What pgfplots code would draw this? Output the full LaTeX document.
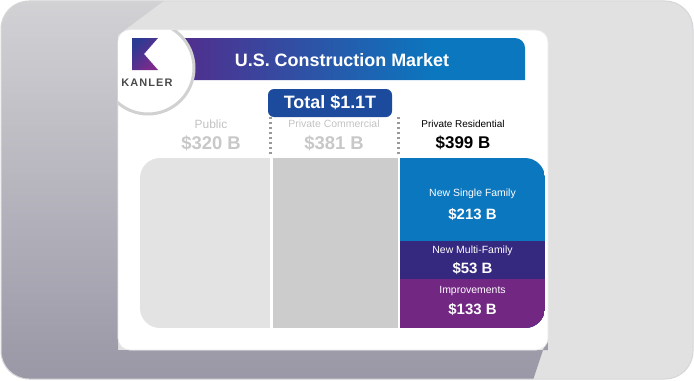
\documentclass[border=0pt]{standalone}
\usepackage{fontspec}
\setmainfont{Liberation Sans}
\usepackage{pgfplots}
\pgfplotsset{compat=1.18}
\definecolor{kblue}{HTML}{0B77BF}
\definecolor{kindigo}{HTML}{35287F}
\definecolor{kpurple}{HTML}{722782}
\definecolor{bpurple}{HTML}{5B2386}
\definecolor{pubgray}{HTML}{E3E3E3}
\definecolor{comgray}{HTML}{CCCCCC}
\definecolor{totbox}{HTML}{1C4A9C}
\definecolor{bgl}{HTML}{E1E1E2}
\definecolor{bgline}{HTML}{D6D6D8}
\definecolor{shtop}{HTML}{D2D2D5}
\definecolor{shbot}{HTML}{9A97A6}
\definecolor{hdrgray}{HTML}{C3C3C3}
\definecolor{valgray}{HTML}{C8C8C8}
\definecolor{logoblue}{HTML}{2B3A92}
\definecolor{logopurple}{HTML}{7E2A8C}
\definecolor{kanler}{HTML}{4A4A4A}
\pgfdeclarehorizontalshading{banner}{100bp}{color(0bp)=(bpurple); color(20bp)=(bpurple); color(62bp)=(kblue); color(100bp)=(kblue)}
\begin{document}
\begin{tikzpicture}[x=1bp,y=1bp]
\path[use as bounding box] (0,0) rectangle (694,380);
\fill[white] (0,0) rectangle (694,380);
\begin{scope}
\clip[rounded corners=28bp] (1,1) rectangle (693,379);
\fill[bgl] (0,0) rectangle (694,380);
\shade[top color=shtop, bottom color=shbot] (0,380) -- (165,380) -- (118,345) -- (118,30) -- (548,30) -- (548,45) -- (533,0) -- (0,0) -- cycle;
\end{scope}
\draw[bgline, line width=1bp, rounded corners=28bp] (1,1) rectangle (693,379);
% card
\fill[white, draw=black!8, line width=0.8bp, rounded corners=12bp] (118,30) rectangle (548,350);
% banner
\shade[shading=banner] (178,300) -- (178,342) -- (515,342) arc[start angle=90,end angle=0,radius=10bp] -- (525,300) -- cycle;
\node[white, font=\fontsize{18}{21}\selectfont\bfseries] at (342,320) {U.S. Construction Market};
% logo circle
\begin{scope}
\clip[rounded corners=12bp] (118,30) rectangle (548,350);
\fill[white] (148,312) circle[radius=46bp];
\draw[black!18, line width=3bp] (148,312) circle[radius=46bp];
\end{scope}
\shade[left color=logoblue, right color=logopurple, shading angle=45] (132,342) -- (158,342) -- (144,326) -- (158,310) -- (132,310) -- cycle;
\node[kanler, font=\fontsize{11}{13}\selectfont\bfseries\addfontfeature{LetterSpace=10}] at (147,297) {KANLER};
% total box
\fill[totbox, rounded corners=6bp] (268,263) rectangle (392,291);
\node[white, font=\fontsize{18}{21}\selectfont\bfseries] at (330,277) {Total \$1.1T};
% headers
\node[hdrgray, font=\fontsize{12}{14}\selectfont] at (211,256) {Public};
\node[valgray, font=\fontsize{18.5}{21}\selectfont\bfseries] at (211,237) {\$320 B};
\node[hdrgray, font=\fontsize{10.5}{13}\selectfont] at (334,256) {Private Commercial};
\node[valgray, font=\fontsize{18.5}{21}\selectfont\bfseries] at (334,237) {\$381 B};
\node[black, font=\fontsize{10}{13}\selectfont] at (463,256) {Private Residential};
\node[black, font=\fontsize{17}{20}\selectfont\bfseries] at (463,237) {\$399 B};
\draw[black!40, line width=2.2bp, dash pattern=on 2.2bp off 2.8bp] (270.5,226) -- (270.5,264);
\draw[black!40, line width=2.2bp, dash pattern=on 2.2bp off 2.8bp] (398.5,226) -- (398.5,264);
% mosaic
\begin{scope}
\clip[rounded corners=20bp] (140,52) rectangle (545,222);
\begin{axis}[at={(140bp,52bp)}, anchor=south west, scale only axis,
  width=405bp, height=170bp, xmin=0, xmax=405, ymin=0, ymax=100,
  hide axis, clip=false]
\addplot[ybar, bar width=130, bar shift=0pt, fill=pubgray, draw=none] coordinates {(65,100)};
\addplot[ybar, bar width=125, bar shift=0pt, fill=comgray, draw=none] coordinates {(195.5,100)};
% Private Residential: New Single Family (top), New Multi-Family, Improvements (bottom); cumulative shares of column
\addplot[ybar, bar width=145, bar shift=0pt, fill=kblue, draw=none] coordinates {(332.5,100)};
\addplot[ybar, bar width=145, bar shift=0pt, fill=kindigo, draw=none] coordinates {(332.5,51)};
\addplot[ybar, bar width=145, bar shift=0pt, fill=kpurple, draw=none] coordinates {(332.5,29)};
\node[white, font=\fontsize{10.5}{12}\selectfont] at (axis cs:332.5,79) {New Single Family};
\node[white, font=\fontsize{15}{18}\selectfont\bfseries] at (axis cs:332.5,67) {\$213 B};
\node[white, font=\fontsize{10.5}{12}\selectfont] at (axis cs:332.5,45.5) {New Multi-Family};
\node[white, font=\fontsize{15}{18}\selectfont\bfseries] at (axis cs:332.5,35) {\$53 B};
\node[white, font=\fontsize{10.5}{12}\selectfont] at (axis cs:332.5,22) {Improvements};
\node[white, font=\fontsize{15}{18}\selectfont\bfseries] at (axis cs:332.5,11) {\$133 B};
\end{axis}
\end{scope}
\end{tikzpicture}
\end{document}
